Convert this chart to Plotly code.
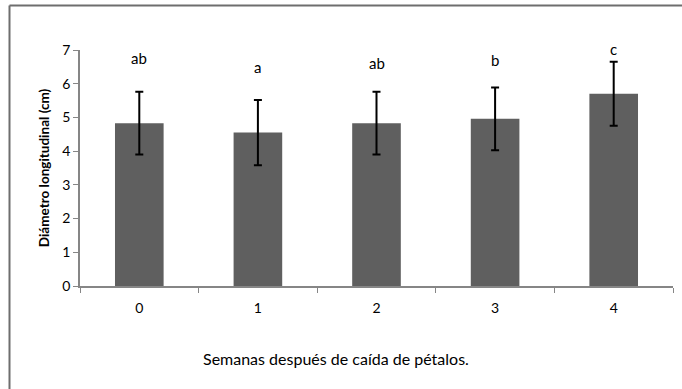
import plotly.graph_objects as go

# Weeks after petal fall
semanas = ["0", "1", "2", "3", "4"]
# Mean longitudinal diameter (cm) and standard deviation
diametro = [4.83, 4.55, 4.83, 4.96, 5.70]
desviacion = [0.93, 0.97, 0.93, 0.93, 0.95]
# Significance letters and the height at which each is written
letras = ["ab", "a", "ab", "b", "c"]
altura_letras = [6.77, 6.50, 6.60, 6.70, 7.03]

FONT = "Lato, 'Open Sans', sans-serif"
AXIS_GRAY = "#868686"
FRAME_GRAY = "#6e6e6e"
Y_MAX = 7
W, H = 682, 389

fig = go.Figure()
fig.add_trace(go.Bar(
    x=semanas,
    y=diametro,
    width=0.41,
    marker=dict(color="#5f5f5f", line=dict(width=0)),
    error_y=dict(type="data", array=desviacion, visible=True,
                 color="black", thickness=2, width=4),
    showlegend=False,
))

# Significance letters above each bar (domain y so they are never clipped)
for s, t, h in zip(semanas, letras, altura_letras):
    fig.add_annotation(x=s, xref="x", y=h / Y_MAX, yref="y domain",
                       text=t, showarrow=False,
                       xanchor="center", yanchor="middle",
                       font=dict(family=FONT, size=15, color="black"))

# Outer chart frame: left and top edges
fx = 9.5 / W
fy = (H - 5.5) / H
fig.add_shape(type="line", xref="paper", yref="paper",
              x0=fx, x1=fx, y0=0, y1=fy,
              line=dict(color=FRAME_GRAY, width=2), layer="below")
fig.add_shape(type="line", xref="paper", yref="paper",
              x0=fx, x1=1, y0=fy, y1=fy,
              line=dict(color=FRAME_GRAY, width=2), layer="below")

# X axis title, centred on the chart frame
fig.add_annotation(text="Semanas después de caída de pétalos.",
                   xref="paper", yref="paper", x=336 / W, y=(H - 358) / H,
                   xanchor="center", yanchor="middle", showarrow=False,
                   font=dict(family=FONT, size=16, color="black"))

fig.update_layout(
    width=W, height=H,
    margin=dict(l=0, r=0, t=0, b=0),
    paper_bgcolor="white", plot_bgcolor="white",
    font=dict(family=FONT, size=14, color="black"),
)
fig.update_xaxes(
    type="category", domain=[80 / W, 673 / W], automargin=False,
    showline=True, linecolor=AXIS_GRAY, linewidth=1.5,
    ticks="outside", tickson="boundaries", ticklen=5, tickcolor=AXIS_GRAY,
    tickfont=dict(family=FONT, size=14), ticklabelstandoff=8,
    showgrid=False, zeroline=False,
)
fig.update_yaxes(
    range=[0, Y_MAX], dtick=1,
    domain=[(H - 286) / H, (H - 50) / H], automargin=False,
    showline=True, linecolor=AXIS_GRAY, linewidth=1.5,
    ticks="outside", ticklen=5, tickcolor=AXIS_GRAY,
    tickfont=dict(family=FONT, size=14),
    showgrid=False, zeroline=False,
    title=dict(text="<b>Diámetro longitudinal (cm)</b>",
               font=dict(family=FONT, size=13.5), standoff=10),
)

fig.write_html("out.html")
